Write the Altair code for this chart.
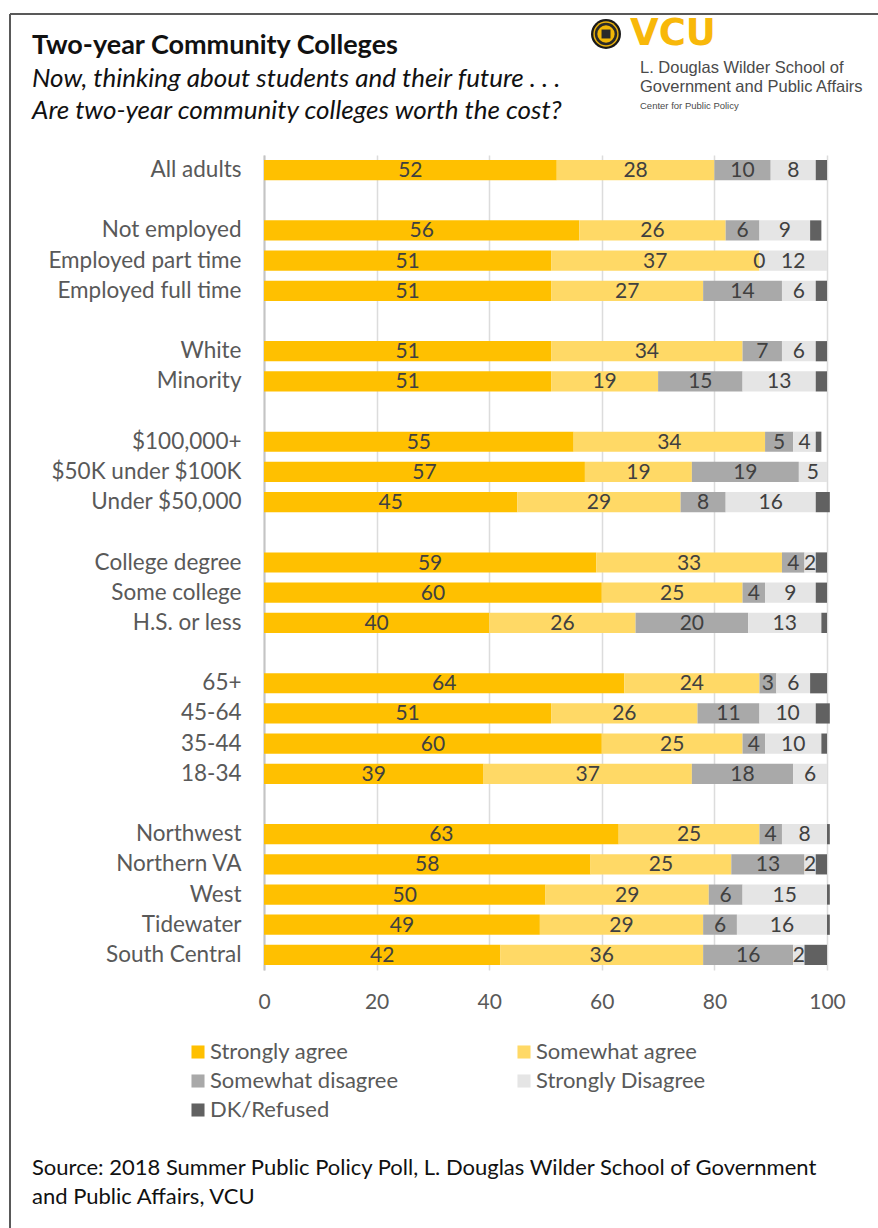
import altair as alt
import pandas as pd

# Survey groups, drawn top to bottom; an empty slot separates each block
groups = [
    ["All adults"],
    ["Not employed", "Employed part time", "Employed full time"],
    ["White", "Minority"],
    ["$100,000+", "$50K under $100K", "Under $50,000"],
    ["College degree", "Some college", "H.S. or less"],
    ["65+", "45-64", "35-44", "18-34"],
    ["Northwest", "Northern VA", "West", "Tidewater", "South Central"],
]

# Percent of respondents per answer, same order as the flattened groups
strongly_agree = [52, 56, 51, 51, 51, 51, 55, 57, 45, 59, 60, 40, 64, 51, 60, 39, 63, 58, 50, 49, 42]
somewhat_agree = [28, 26, 37, 27, 34, 19, 34, 19, 29, 33, 25, 26, 24, 26, 25, 37, 25, 25, 29, 29, 36]
somewhat_disagree = [10, 6, 0, 14, 7, 15, 5, 19, 8, 4, 4, 20, 3, 11, 4, 18, 4, 13, 6, 6, 16]
strongly_disagree = [8, 9, 12, 6, 6, 13, 4, 5, 16, 2, 9, 13, 6, 10, 10, 6, 8, 2, 15, 16, 2]
dk_refused = [2, 2, 0, 2, 2, 2, 1, 0, 2.5, 2, 2, 1, 3, 2.5, 1, 0, 0.5, 2, 0.5, 0.5, 4]

responses = ["Strongly agree", "Somewhat agree", "Somewhat disagree", "Strongly Disagree", "DK/Refused"]
colors = ["#FFC000", "#FFD966", "#A9A9A9", "#E5E5E5", "#616161"]
x_ticks = [0, 20, 40, 60, 80, 100]

# Category order for the band scale, with blank keys as spacers
row_order = []
for i, g in enumerate(groups):
    if i > 0:
        row_order.append(" " * i)
    row_order.extend(g)
labels = [name for g in groups for name in g]

series = [strongly_agree, somewhat_agree, somewhat_disagree, strongly_disagree, dk_refused]
records = []
for k, (resp, vals) in enumerate(zip(responses, series)):
    for name, v in zip(labels, vals):
        records.append({"group": name, "response": resp, "ord": k, "value": v})
df = pd.DataFrame(records)

FONT = "Lato"
W, H = 563, 815

y_enc = alt.Y(
    "group:N",
    sort=row_order,
    scale=alt.Scale(domain=row_order, paddingInner=0.33, paddingOuter=0.165),
    axis=alt.Axis(
        title=None, ticks=False, domain=True, domainColor="#C4C4C4", domainWidth=2,
        labelFont=FONT, labelFontSize=22.5, labelColor="#595959", labelPadding=23,
        labelLimit=300,
    ),
)

bars = alt.Chart(df).mark_bar().encode(
    y=y_enc,
    x=alt.X(
        "value:Q",
        stack="zero",
        scale=alt.Scale(domain=[0, 100], nice=False),
        axis=alt.Axis(
            title=None, values=x_ticks, ticks=False, domain=False, grid=True,
            gridColor="#DCDCDC", gridWidth=1.5, labelFlush=False,
            labelFont=FONT, labelFontSize=21, labelColor="#595959", labelPadding=21,
        ),
    ),
    color=alt.Color(
        "response:N",
        sort=responses,
        scale=alt.Scale(domain=responses, range=colors),
        legend=alt.Legend(
            title=None, orient="none", legendX=-77, legendY=886, columns=2,
            direction="horizontal", columnPadding=114, rowPadding=7,
            symbolType="square", symbolSize=170, symbolStrokeWidth=0,
            labelFont=FONT, labelFontSize=22, labelColor="#595959",
            labelOffset=1, labelLimit=400,
        ),
    ),
    order=alt.Order("ord:Q", sort="ascending"),
)

values_text = (
    alt.Chart(df)
    .transform_stack(
        stack="value", groupby=["group"], as_=["v0", "v1"],
        sort=[alt.SortField("ord", order="ascending")],
    )
    .transform_filter("datum.response != 'DK/Refused'")
    .transform_calculate(mid="(datum.v0 + datum.v1) / 2")
    .mark_text(font=FONT, fontSize=21, color="#404040", baseline="middle", dy=1)
    .encode(x="mid:Q", y=alt.Y("group:N", sort=row_order), text=alt.Text("value:Q", format="d"))
)

# Heading, logo block, source note and frame, placed relative to the plot origin
def label(text, x, y, size, **kw):
    return alt.Chart(pd.DataFrame({"t": [text]})).mark_text(
        align="left", baseline="middle", fontSize=size, **kw
    ).encode(x=alt.value(x), y=alt.value(y), text="t:N")

title = label("Two-year Community Colleges", -232, -109, 27, font=FONT, fontWeight="bold", color="#111111")
sub1 = label("Now, thinking about students and their future . . .", -232, -76, 26,
             font=FONT, fontStyle="italic", color="#111111")
sub2 = label("Are two-year community colleges worth the cost?", -232, -44, 26,
             font=FONT, fontStyle="italic", color="#111111")

seal_df = pd.DataFrame({"s": [1]})
def seal_part(shape, color, size):
    return alt.Chart(seal_df).mark_point(filled=True, shape=shape, color=color, opacity=1).encode(
        x=alt.value(342), y=alt.value(-121), size=alt.value(size))

seal = [
    seal_part("circle", "#1A1A1A", 900),
    seal_part("circle", "#E9B10C", 640),
    seal_part("circle", "#2A2A2A", 500),
    seal_part("circle", "#F2B705", 300),
    seal_part("square", "#2A2A2A", 80),
]
vcu = label("VCU", 366, -121, 37, font="DejaVu Sans", fontWeight="bold", color="#F8B80A")
logo1 = label("L. Douglas Wilder School of", 376, -87, 16.5, font="Liberation Sans", color="#4A4A4A")
logo2 = label("Government and Public Affairs", 376, -68, 16.5, font="Liberation Sans", color="#4A4A4A")
logo3 = label("Center for Public Policy", 376, -49, 9.5, font="Liberation Sans", color="#4A4A4A")

src1 = label("Source: 2018 Summer Public Policy Poll, L. Douglas Wilder School of Government",
             -232, 1013, 22, font=FONT, color="#111111")
src2 = label("and Public Affairs, VCU", -232, 1042, 22, font=FONT, color="#111111")

frame_df = pd.DataFrame({"f": [1]})
frame_top = alt.Chart(frame_df).mark_rule(color="#595959", strokeWidth=2).encode(
    x=alt.value(-254), x2=alt.value(620), y=alt.value(-141))
frame_left = alt.Chart(frame_df).mark_rule(color="#595959", strokeWidth=2).encode(
    x=alt.value(-254), y=alt.value(-141), y2=alt.value(1080))

chart = (
    alt.layer(
        bars, values_text, title, sub1, sub2, *seal,
        vcu, logo1, logo2, logo3, src1, src2, frame_top, frame_left,
    )
    .properties(
        width=W, height=H,
        padding={"left": 264, "top": 155, "right": 51, "bottom": 258},
        autosize=alt.AutoSizeParams(type="none"),
        background="white",
    )
    .configure_view(stroke=None)
)

chart.save("out.html", embed_options={"renderer": "svg", "actions": False})
